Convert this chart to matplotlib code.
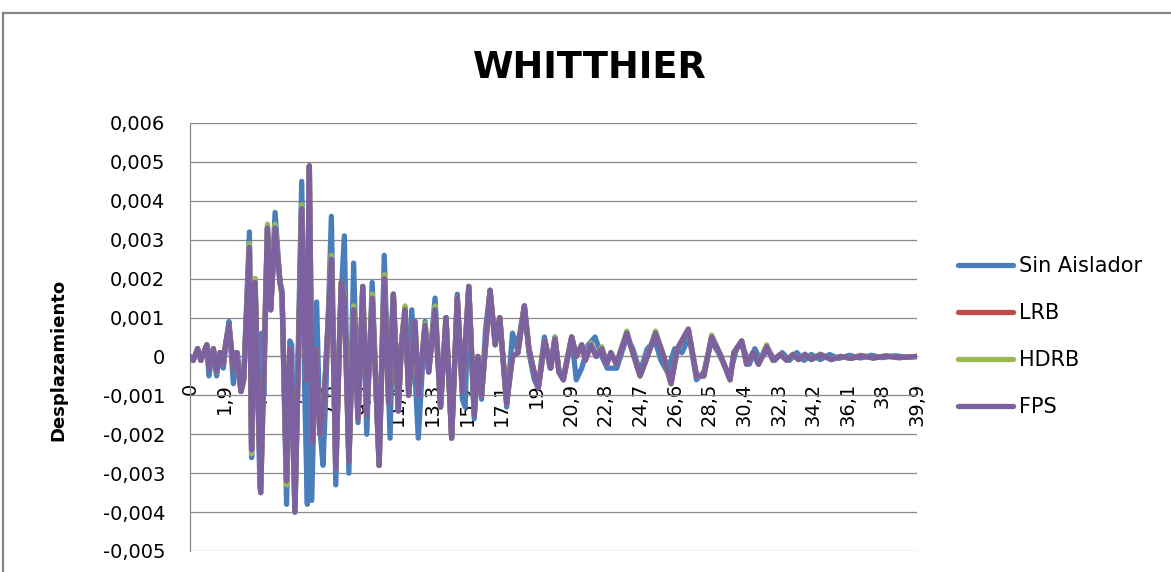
import matplotlib
matplotlib.use("Agg")
import matplotlib.pyplot as plt
from matplotlib.lines import Line2D
from matplotlib.ticker import FuncFormatter, FixedLocator

# ---- data -----------------------------------------------------------------
# Sin Aislador: time (s) and displacement at the turning points of the record
t_sin = [0.00, 0.18, 0.42, 0.60, 0.92, 1.04, 1.28, 1.46, 1.65, 1.83, 1.95, 2.14,
         2.38, 2.60, 2.80, 2.95, 3.26, 3.38, 3.57, 3.84, 3.93, 4.05, 4.25, 4.43,
         4.67, 4.94, 5.05, 5.30, 5.48, 5.58, 5.76, 6.13, 6.30, 6.44, 6.55, 6.68,
         6.95, 7.12, 7.30, 7.45, 7.76, 8.00, 8.23, 8.47, 8.72, 8.98, 9.22, 9.48,
         9.70, 10.00, 10.18, 10.38, 10.66, 10.98, 11.16, 11.43, 11.60, 11.80,
         12.00, 12.17, 12.30, 12.53, 12.90, 13.10, 13.45, 13.75, 14.05, 14.36,
         14.67, 14.95, 15.10, 15.30, 15.60, 15.80, 16.00, 16.22, 16.47, 16.75,
         17.00, 17.38, 17.70, 17.95, 18.35, 18.60, 18.90, 19.10, 19.45, 19.76,
         20.03, 20.25, 20.50, 20.95, 21.20, 21.50, 21.86, 22.23, 22.60, 22.90,
         23.42, 23.97, 24.30, 24.70, 25.10, 25.52, 25.85, 26.20, 26.60, 27.00,
         27.40, 27.80, 28.20, 28.60, 29.00, 29.60, 30.00, 30.30, 30.70, 31.00,
         31.30, 31.70, 32.10, 32.50, 32.90, 33.30, 33.70, 34.10, 34.60, 35.10,
         35.60, 36.20, 36.80, 37.40, 38.00, 38.70, 39.30, 39.90]
sin_aislador = [0.0, -0.0001, 0.0002, -0.0001, 0.0003, -0.0005, 0.0002, -0.0005,
                0.0001, -0.0003, 0.0003, 0.0009, -0.0007, 0.0001, -0.0009, -0.0005,
                0.0032, -0.0026, 0.0020, -0.0034, 0.0006, -0.0010, 0.0033, 0.0012,
                0.0037, 0.0019, 0.0017, -0.0038, 0.0004, 0.0003, -0.0038, 0.0045,
                -0.0010, -0.0038, 0.0042, -0.0037, 0.0014, -0.0018, -0.0028, -0.0010,
                0.0036, -0.0033, 0.0010, 0.0031, -0.0030, 0.0024, -0.0017, 0.0017,
                -0.0020, 0.0019, -0.0004, -0.0028, 0.0026, -0.0021, 0.0016, -0.0014,
                0.0003, 0.0012, -0.0008, 0.0012, 0.0000, -0.0021, 0.0009, -0.0004,
                0.0015, -0.0013, 0.0010, -0.0021, 0.0016, -0.0011, -0.0013, 0.0018,
                -0.0016, 0.0000, -0.0011, 0.0007, 0.0017, 0.0003, 0.0010, -0.0013,
                0.0006, 0.0002, 0.0013, 0.0001, -0.0006, -0.0008, 0.0005, -0.0003,
                0.0005, -0.0004, -0.0005, 0.0005, -0.0006, -0.0003, 0.0003, 0.0005,
                0.0000, -0.0003, -0.0003, 0.0005, 0.0002, -0.0004, 0.0002, 0.0004,
                -0.0001, -0.0004, 0.0002, 0.0001, 0.0005, -0.0006, -0.0004, 0.0004,
                0.0001, -0.0005, 0.0002, 0.0003, -0.0002, 0.0002, -0.0001, 0.0002,
                -0.0001, 0.0001, -0.0001, 0.0001, -0.0001, 0.00005, -0.00008,
                0.00005, -0.00005, 0.00003, -0.00004, 0.00003, -0.00003, 0.00002,
                -0.00002, 0.0]

# Isolated structures (LRB, HDRB, FPS) share the same time samples
t_iso = [0.00, 0.18, 0.42, 0.60, 0.92, 1.04, 1.28, 1.46, 1.65, 1.83, 1.95, 2.14,
         2.38, 2.55, 2.80, 2.95, 3.26, 3.38, 3.57, 3.88, 4.25, 4.43, 4.67, 4.94,
         5.05, 5.30, 5.48, 5.60, 5.76, 6.13, 6.30, 6.40, 6.55, 6.72, 6.90, 7.13,
         7.35, 7.76, 8.00, 8.30, 8.47, 8.72, 8.98, 9.22, 9.48, 9.70, 10.00, 10.18,
         10.38, 10.66, 10.90, 11.16, 11.43, 11.60, 11.80, 12.00, 12.35, 12.53,
         12.90, 13.10, 13.45, 13.75, 14.05, 14.36, 14.67, 14.95, 15.30, 15.60,
         15.80, 16.00, 16.47, 16.75, 17.00, 17.38, 17.70, 18.00, 18.35, 18.60,
         18.93, 19.12, 19.48, 19.80, 20.03, 20.25, 20.49, 20.95, 21.20, 21.50,
         21.70, 22.00, 22.30, 22.60, 22.87, 23.10, 23.40, 23.97, 24.30, 24.70,
         25.10, 25.55, 26.00, 26.40, 26.75, 27.35, 27.80, 28.20, 28.63, 29.10,
         29.64, 29.85, 30.28, 30.55, 30.90, 31.20, 31.65, 32.00, 32.40, 32.75,
         33.10, 33.40, 33.75, 34.10, 34.60, 35.20, 35.70, 36.30, 36.80, 37.50,
         38.20, 38.90, 39.90]
fps = [0.0, -0.0001, 0.0002, -0.0001, 0.0003, -0.0003, 0.0002, -0.0004, 0.0001,
       -0.0002, 0.0003, 0.0008, -0.0003, 0.0001, -0.0009, -0.0006, 0.0028, -0.0024,
       0.0019, -0.0035, 0.0033, 0.0012, 0.0033, 0.0019, 0.0016, -0.0032, 0.0002,
       -0.0011, -0.0040, 0.0038, 0.0002, -0.0006, 0.0049, -0.0022, 0.0002, -0.0020,
       -0.0012, 0.0025, -0.0029, 0.0019, 0.0015, -0.0027, 0.0012, -0.0016, 0.0018,
       -0.0015, 0.0015, -0.0005, -0.0028, 0.0020, -0.0012, 0.0016, -0.0014, 0.0003,
       0.0012, -0.0010, 0.0009, -0.0010, 0.0008, -0.0004, 0.0012, -0.0013, 0.0010,
       -0.0021, 0.0015, -0.0009, 0.0018, -0.0015, 0.0000, -0.0010, 0.0017, 0.0003,
       0.0010, -0.0012, 0.0000, 0.0001, 0.0013, 0.0002, -0.0005, -0.0008, 0.0004,
       -0.0003, 0.00045, -0.0004, -0.0006, 0.0005, 0.0000, 0.0003,
       -0.0001, 0.0003, 0.0000, 0.0002, -0.0002, 0.0001, -0.0002,
       0.0006, 0.0001, -0.0005, 0.0000, 0.0006, 0.0000,
       -0.0007, 0.0002, 0.0007, -0.0005, -0.0005, 0.0005, 0.00005, -0.0006, 0.0001,
       0.0004, -0.0002, 0.0001, -0.0002, 0.00025, -0.0001, 0.00005, -0.0001,
       0.00005, -0.00008, 0.00005, -0.00008, 0.00005, -0.00008, 0.0, -0.00005,
       0.00002, -0.00004, 0.00001, -0.00003, 0.0]
hdrb = [0.0, -0.0001, 0.0002, -0.0001, 0.0003, -0.0003, 0.0002, -0.0004, 0.0001,
        -0.0002, 0.0003, 0.0008, -0.0003, 0.0001, -0.0009, -0.0006, 0.0029, -0.0025,
        0.0020, -0.0035, 0.0034, 0.0012, 0.0034, 0.0019, 0.0016, -0.0033, 0.0002,
        -0.0011, -0.0040, 0.0039, 0.0002, -0.0006, 0.0049, -0.0022, 0.0002, -0.0020,
        -0.0012, 0.0026, -0.0029, 0.0019, 0.0016, -0.0027, 0.0013, -0.0016, 0.0018,
        -0.0015, 0.0016, -0.0005, -0.0028, 0.0021, -0.0012, 0.0016, -0.0014, 0.0003,
        0.0013, -0.0010, 0.0009, -0.0010, 0.00085, -0.0004, 0.0013, -0.0013, 0.0010,
        -0.0021, 0.0015, -0.0009, 0.0018, -0.0015, 0.0000, -0.0010, 0.0017, 0.0003,
        0.0010, -0.0012, 0.0000, 0.0001, 0.0013, 0.0002, -0.0005, -0.0008, 0.0004,
        -0.0003, 0.0005, -0.0004, -0.0006, 0.0005, 0.0000, 0.0003,
        -0.0001, 0.00035, 0.0000, 0.00025, -0.0002, 0.0001, -0.0002,
        0.00065, 0.0001, -0.0005, 0.0000, 0.00065, 0.0000,
        -0.0007, 0.0002, 0.0007, -0.0005, -0.0005, 0.00055, 0.00005, -0.0006, 0.0001,
        0.0004, -0.0002, 0.0001, -0.0002, 0.0003, -0.0001, 0.00006, -0.0001,
        0.00006, -0.00008, 0.00006, -0.00008, 0.00006, -0.00008, 0.0, -0.00005,
        0.00003, -0.00004, 0.00002, -0.00003, 0.0]
lrb = [0.0, -0.0001, 0.0002, -0.0001, 0.0003, -0.0003, 0.0002, -0.0004, 0.0001,
       -0.0002, 0.0003, 0.0008, -0.0003, 0.0001, -0.0009, -0.0006, 0.0028, -0.0024,
       0.0019, -0.0035, 0.0033, 0.0012, 0.0033, 0.0019, 0.0016, -0.0032, 0.0002,
       -0.0011, -0.0040, 0.0038, 0.0002, -0.0006, 0.0049, -0.0022, 0.0002, -0.0020,
       -0.0012, 0.0025, -0.0029, 0.0019, 0.0015, -0.0027, 0.0012, -0.0016, 0.0018,
       -0.0015, 0.0015, -0.0005, -0.0028, 0.0020, -0.0012, 0.0016, -0.0014, 0.0003,
       0.0012, -0.0010, 0.0009, -0.0010, 0.0008, -0.0004, 0.0012, -0.0013, 0.0010,
       -0.0021, 0.0015, -0.0009, 0.0018, -0.0015, 0.0000, -0.0010, 0.0017, 0.0003,
       0.0010, -0.0012, 0.0000, 0.0001, 0.0013, 0.0002, -0.0005, -0.0008, 0.0004,
       -0.0003, 0.00045, -0.0004, -0.0006, 0.0005, 0.0000, 0.0003,
       -0.0001, 0.0003, 0.0000, 0.0002, -0.0002, 0.0001, -0.0002,
       0.0006, 0.0001, -0.0005, 0.0000, 0.0006, 0.0000,
       -0.0007, 0.0002, 0.0007, -0.0005, -0.0005, 0.0005, 0.00005, -0.0006, 0.0001,
       0.0004, -0.0002, 0.0001, -0.0002, 0.00025, -0.0001, 0.00005, -0.0001,
       0.00005, -0.00008, 0.00005, -0.00008, 0.00005, -0.00008, 0.0, -0.00005,
       0.00002, -0.00004, 0.00001, -0.00003, 0.0]

x_ticks = [0, 1.9, 3.8, 5.7, 7.6, 9.5, 11.4, 13.3, 15.2, 17.1, 19, 20.9, 22.8,
           24.7, 26.6, 28.5, 30.4, 32.3, 34.2, 36.1, 38, 39.9]
x_tick_labels = ["0", "1,9", "3,8", "5,7", "7,6", "9,5", "11,4", "13,3", "15,2",
                 "17,1", "19", "20,9", "22,8", "24,7", "26,6", "28,5", "30,4",
                 "32,3", "34,2", "36,1", "38", "39,9"]
y_ticks = [-0.005, -0.004, -0.003, -0.002, -0.001, 0.0, 0.001, 0.002, 0.003,
           0.004, 0.005, 0.006]

series = [
    ("Sin Aislador", t_sin, sin_aislador, "#4A7EBB"),
    ("LRB", t_iso, lrb, "#BE4B48"),
    ("HDRB", t_iso, hdrb, "#98B954"),
    ("FPS", t_iso, fps, "#7D60A0"),
]

# ---- figure ---------------------------------------------------------------
W, H = 1171, 572
plt.rcParams["font.family"] = ["DejaVu Sans"]
fig = plt.figure(figsize=(W / 100, H / 100), dpi=100)
fig.patch.set_facecolor("white")

# chart-area frame (left and top edges)
frame_kw = dict(color="#868686", linewidth=1.6, transform=fig.transFigure)
fig.add_artist(Line2D([3 / W, 3 / W], [0, 1 - 13 / H], **frame_kw))
fig.add_artist(Line2D([3 / W, 1], [1 - 13 / H, 1 - 13 / H], **frame_kw))

ax = fig.add_axes([190 / W, 21 / H, 727 / W, 428 / H])

handles = []
for name, t, v, col in series:
    ln, = ax.plot(t, v, color=col, linewidth=3.8, label=name,
                  solid_joinstyle="round", solid_capstyle="round", zorder=3)
    handles.append(ln)

grid_col = "#8a8a8a"
for side in ("top", "right"):
    ax.spines[side].set_visible(False)
ax.spines["left"].set_color(grid_col)
ax.spines["left"].set_linewidth(0.9)
ax.spines["bottom"].set_position(("data", 0))
ax.spines["bottom"].set_color(grid_col)
ax.spines["bottom"].set_linewidth(0.9)

ax.set_xlim(0, 39.9)
ax.set_ylim(-0.005, 0.006)

ax.yaxis.set_major_locator(FixedLocator(y_ticks))
ax.yaxis.set_major_formatter(
    FuncFormatter(lambda v, _: "0" if abs(v) < 1e-12 else f"{v:.3f}".replace(".", ",")))
ax.grid(axis="y", color=grid_col, linewidth=0.9, zorder=1)
ax.grid(axis="x", visible=False)

ax.set_xticks(x_ticks)
ax.set_xticklabels(x_tick_labels)

ax.tick_params(axis="x", length=0, pad=19, labelsize=14, labelcolor="black",
               labelrotation=90)
ax.tick_params(axis="y", length=0, pad=18, labelsize=14, labelcolor="black")

ax.set_ylabel("Desplazamiento", fontsize=13, fontweight="bold")
ax.yaxis.set_label_coords(-0.1816, 0.446)
ax.yaxis.label.set_va("center")

fig.text(590 / W, 1 - 78 / H, "WHITTHIER", ha="center", va="baseline",
         fontsize=26.5, fontweight="bold")

fig.legend(handles=handles, loc="upper left",
           bbox_to_anchor=(958 / W, 1 - 256 / H), frameon=False,
           fontsize=15, handlelength=2.64, handletextpad=0.3,
           labelspacing=1.3, borderpad=0, borderaxespad=0)

fig.savefig("out.png", dpi=100)
